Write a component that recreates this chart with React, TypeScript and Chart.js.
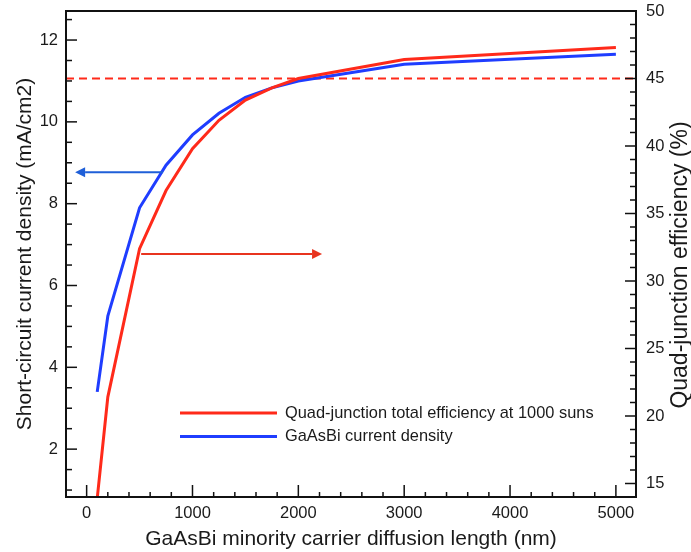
import React, { useEffect, useRef } from 'react';
import { Chart, registerables } from 'chart.js';

Chart.register(...registerables);

// ---- data ----
const DIFFUSION_LENGTH_NM = [100, 200, 500, 750, 1000, 1250, 1500, 1750, 2000, 3000, 5000];
const EFFICIENCY_PCT = [13.9, 21.4, 32.4, 36.7, 39.8, 41.9, 43.4, 44.3, 45.0, 46.4, 47.3];
const CURRENT_DENSITY = [3.4, 5.25, 7.9, 8.94, 9.68, 10.21, 10.6, 10.83, 11.0, 11.41, 11.65];
const REFERENCE_EFFICIENCY = 45;

const SERIES_LABELS = ['Quad-junction total efficiency at 1000 suns', 'GaAsBi current density'];
const X_TITLE = 'GaAsBi minority carrier diffusion length (nm)';
const Y_TITLE = 'Short-circuit current density (mA/cm2)';
const Y1_TITLE = 'Quad-junction efficiency (%)';

const X_TICKS = [0, 1000, 2000, 3000, 4000, 5000];
const Y_TICKS = [2, 4, 6, 8, 10, 12];
const Y1_TICKS = [15, 20, 25, 30, 35, 40, 45, 50];
const X_MINOR_STEP = 200;
const Y_MINOR_STEP = 0.5;
const Y1_MINOR_STEP = 1;

const X_RANGE = [-195, 5190];
const Y_RANGE = [0.83, 12.71];
const Y1_RANGE = [14, 50];

// arrows (data units): blue points to left axis, red points to right axis
const BLUE_ARROW_X = [722, -109];
const BLUE_ARROW_Y = 8.77;
const RED_ARROW_X = [515, 2224];
const RED_ARROW_Y = 32.0;

const RED = '#ff2a1a';
const BLUE = '#1f3dff';
const RED_ARROW_COLOR = '#e8341f';
const BLUE_ARROW_COLOR = '#1f5fd8';
const TEXT = '#1a1a1a';
const FONT = '"Liberation Sans", Arial, Helvetica, sans-serif';

function ticksAndFrame() {
  return {
    id: 'ticksAndFrame',
    afterDatasetsDraw(chart: any) {
      const { ctx, chartArea: a, scales } = chart;
      ctx.save();
      ctx.strokeStyle = '#111';
      ctx.lineWidth = 1.5;
      const seg = (x1: number, y1: number, x2: number, y2: number) => {
        ctx.beginPath();
        ctx.moveTo(x1, y1);
        ctx.lineTo(x2, y2);
        ctx.stroke();
      };
      const each = (min: number, max: number, step: number, majors: number[], fn: (v: number, major: boolean) => void) => {
        for (let i = Math.ceil(min / step - 1e-9); i * step <= max + 1e-9; i++) {
          const v = +(i * step).toFixed(6);
          fn(v, majors.some((m) => Math.abs(m - v) < 1e-6));
        }
      };
      each(X_RANGE[0], X_RANGE[1], X_MINOR_STEP, X_TICKS, (v, major) => {
        const px = scales.x.getPixelForValue(v);
        seg(px, a.bottom, px, a.bottom - (major ? 12 : 5));
      });
      each(Y_RANGE[0], Y_RANGE[1], Y_MINOR_STEP, Y_TICKS, (v, major) => {
        const py = scales.y.getPixelForValue(v);
        seg(a.left, py, a.left + (major ? 11 : 6), py);
      });
      each(Y1_RANGE[0], Y1_RANGE[1], Y1_MINOR_STEP, Y1_TICKS, (v, major) => {
        const py = scales.y1.getPixelForValue(v);
        seg(a.right, py, a.right - (major ? 11 : 6), py);
      });
      ctx.lineWidth = 2;
      ctx.strokeRect(a.left, a.top, a.right - a.left, a.bottom - a.top);
      ctx.restore();
    },
  };
}

function arrows() {
  const draw = (ctx: any, x1: number, x2: number, y: number, color: string) => {
    const dir = Math.sign(x2 - x1);
    const headLen = 10;
    const headHalf = 5;
    ctx.strokeStyle = color;
    ctx.fillStyle = color;
    ctx.lineWidth = 2;
    ctx.beginPath();
    ctx.moveTo(x1, y);
    ctx.lineTo(x2 - dir * headLen, y);
    ctx.stroke();
    ctx.beginPath();
    ctx.moveTo(x2, y);
    ctx.lineTo(x2 - dir * headLen, y - headHalf);
    ctx.lineTo(x2 - dir * headLen, y + headHalf);
    ctx.closePath();
    ctx.fill();
  };
  return {
    id: 'arrows',
    afterDatasetsDraw(chart: any) {
      const { ctx, scales } = chart;
      ctx.save();
      draw(
        ctx,
        scales.x.getPixelForValue(BLUE_ARROW_X[0]),
        scales.x.getPixelForValue(BLUE_ARROW_X[1]),
        scales.y.getPixelForValue(BLUE_ARROW_Y),
        BLUE_ARROW_COLOR
      );
      draw(
        ctx,
        scales.x.getPixelForValue(RED_ARROW_X[0]),
        scales.x.getPixelForValue(RED_ARROW_X[1]),
        scales.y1.getPixelForValue(RED_ARROW_Y),
        RED_ARROW_COLOR
      );
      ctx.restore();
    },
  };
}

function legendAndRightTitle() {
  return {
    id: 'legendAndRightTitle',
    afterDraw(chart: any) {
      const { ctx, chartArea: a } = chart;
      ctx.save();
      const items = [0, 1].map((i) => chart.data.datasets[i]);
      const x0 = a.left + 114;
      const lineLen = 97;
      const rows = [a.top + 402, a.top + 425.5];
      items.forEach((ds: any, i: number) => {
        const y = rows[i];
        ctx.strokeStyle = ds.borderColor;
        ctx.lineWidth = 3;
        ctx.beginPath();
        ctx.moveTo(x0, y);
        ctx.lineTo(x0 + lineLen, y);
        ctx.stroke();
        ctx.fillStyle = TEXT;
        ctx.font = `16.4px ${FONT}`;
        ctx.textAlign = 'left';
        ctx.textBaseline = 'middle';
        ctx.fillText(ds.label, x0 + lineLen + 8, y);
      });
      // right axis title (reads bottom-to-top)
      ctx.translate(681, 265);
      ctx.rotate(-Math.PI / 2);
      ctx.fillStyle = TEXT;
      ctx.font = `23px ${FONT}`;
      ctx.textAlign = 'center';
      ctx.textBaseline = 'middle';
      ctx.fillText(Y1_TITLE, 0, 0);
      ctx.restore();
    },
  };
}

const noPad = (s: any) => {
  s.paddingTop = 0;
  s.paddingBottom = 0;
  s.paddingLeft = 0;
  s.paddingRight = 0;
};

export default function App() {
  const ref = useRef<HTMLCanvasElement | null>(null);

  useEffect(() => {
    if (!ref.current) return;
    const tickFont = { family: FONT, size: 16.5 };
    const plain = (v: any) => String(v);
    const chart = new Chart(ref.current, {
      type: 'line',
      data: {
        datasets: [
          {
            label: SERIES_LABELS[0],
            data: DIFFUSION_LENGTH_NM.map((x, i) => ({ x, y: EFFICIENCY_PCT[i] })),
            yAxisID: 'y1',
            borderColor: RED,
            backgroundColor: RED,
            borderWidth: 3,
            pointRadius: 0,
            tension: 0,
          },
          {
            label: SERIES_LABELS[1],
            data: DIFFUSION_LENGTH_NM.map((x, i) => ({ x, y: CURRENT_DENSITY[i] })),
            yAxisID: 'y',
            borderColor: BLUE,
            backgroundColor: BLUE,
            borderWidth: 3,
            pointRadius: 0,
            tension: 0,
          },
          {
            label: 'reference',
            data: [
              { x: X_RANGE[0], y: REFERENCE_EFFICIENCY },
              { x: X_RANGE[1], y: REFERENCE_EFFICIENCY },
            ],
            yAxisID: 'y1',
            borderColor: RED,
            borderWidth: 2,
            borderDash: [8, 5],
            pointRadius: 0,
          },
        ],
      },
      options: {
        responsive: false,
        animation: false,
        layout: { padding: { top: 11, left: 0, right: 0, bottom: 0 } },
        plugins: { legend: { display: false }, tooltip: { enabled: false } },
        scales: {
          x: {
            type: 'linear',
            min: X_RANGE[0],
            max: X_RANGE[1],
            grid: { display: false, drawTicks: false },
            border: { display: false },
            afterBuildTicks: (s: any) => {
              s.ticks = X_TICKS.map((v) => ({ value: v }));
            },
            afterFit: (s: any) => {
              s.height = 55;
              noPad(s);
            },
            ticks: { font: tickFont, color: TEXT, padding: 7, maxRotation: 0, autoSkip: false, callback: plain },
            title: {
              display: true,
              text: X_TITLE,
              color: TEXT,
              font: { family: FONT, size: 21 },
              padding: { top: 0, bottom: 0 },
            },
          },
          y: {
            type: 'linear',
            position: 'left',
            min: Y_RANGE[0],
            max: Y_RANGE[1],
            grid: { display: false, drawTicks: false },
            border: { display: false },
            afterBuildTicks: (s: any) => {
              s.ticks = Y_TICKS.map((v) => ({ value: v }));
            },
            afterFit: (s: any) => {
              s.width = 66;
              noPad(s);
            },
            ticks: { font: tickFont, color: TEXT, padding: 8, autoSkip: false, callback: plain },
            title: {
              display: true,
              text: Y_TITLE,
              color: TEXT,
              font: { family: FONT, size: 21 },
              padding: { top: 13, bottom: 0 },
            },
          },
          y1: {
            type: 'linear',
            position: 'right',
            min: Y1_RANGE[0],
            max: Y1_RANGE[1],
            grid: { display: false, drawTicks: false },
            border: { display: false },
            afterBuildTicks: (s: any) => {
              s.ticks = Y1_TICKS.map((v) => ({ value: v }));
            },
            afterFit: (s: any) => {
              s.width = 55;
              noPad(s);
            },
            ticks: { font: tickFont, color: TEXT, padding: 10, autoSkip: false, callback: plain },
          },
        },
      },
      plugins: [ticksAndFrame(), arrows(), legendAndRightTitle()],
    });
    return () => chart.destroy();
  }, []);

  return (
    <div style={{ position: 'absolute', left: 0, top: 0, width: 691, height: 552, background: '#fff' }}>
      <canvas ref={ref} width={691} height={552} />
    </div>
  );
}
